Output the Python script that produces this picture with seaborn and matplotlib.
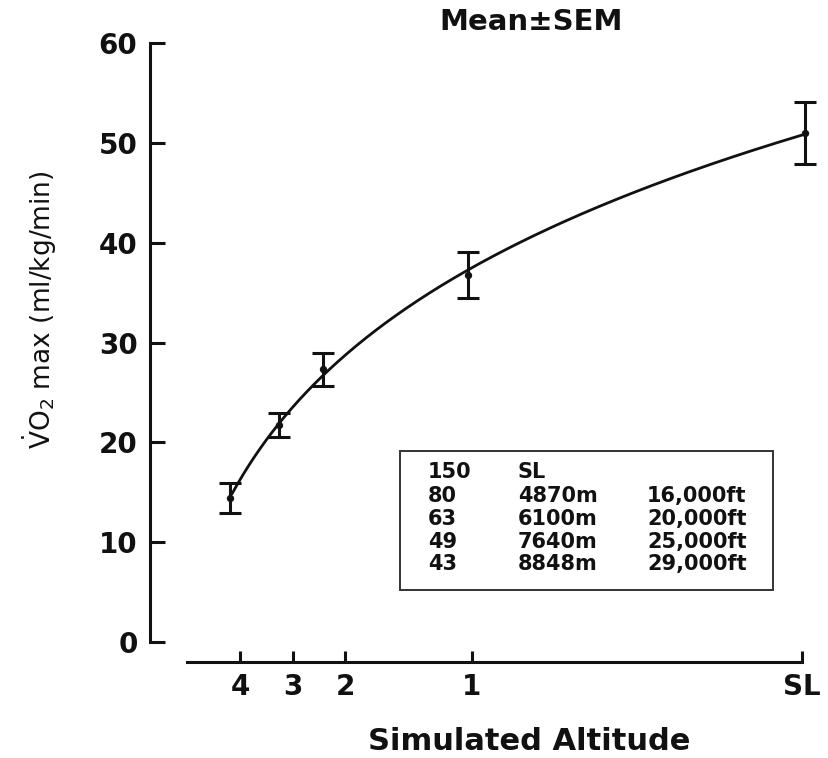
import numpy as np
import pandas as pd
import matplotlib
matplotlib.use("Agg")
import matplotlib.pyplot as plt
from matplotlib.patches import Rectangle
import seaborn as sns

# Simulated altitude stages (4 = highest, SL = sea level)
stage_labels = ["4", "3", "2", "1", "SL"]
stage_tick_pos = [9.0, 14.3, 19.5, 32.2, 65.2]
point_x = [8.0, 12.9, 17.3, 31.8, 65.5]
vo2_mean = [14.4, 21.7, 27.3, 36.8, 51.0]
vo2_sem = [1.5, 1.2, 1.65, 2.3, 3.1]

# Inset table: inspired PO2 (mmHg), altitude (m), altitude (ft)
po2_col = ["150", "80", "63", "49", "43"]
alt_m_col = ["SL", "4870m", "6100m", "7640m", "8848m"]
alt_ft_col = ["", "16,000ft", "20,000ft", "25,000ft", "29,000ft"]

sns.set_theme(style="white")
plt.rcParams["font.family"] = ["DejaVu Sans"]
plt.rcParams["mathtext.fontset"] = "dejavusans"
plt.rcParams["mathtext.default"] = "regular"

ink = "#111111"

fig = plt.figure(figsize=(8.29, 7.58), dpi=100)
ax = fig.add_axes([150 / 829, (758 - 662) / 758, 680 / 829, 619 / 758])
ax.set_facecolor("white")
ax.set_xlim(0, 68)
ax.set_ylim(-2.0, 60)

# Smooth trend through the stage means (quadratic in log position)
coef = np.polyfit(np.log(point_x), vo2_mean, 2)
xs = np.linspace(8.2, point_x[-1], 300)
curve = pd.DataFrame({"x": xs, "y": np.polyval(coef, np.log(xs))})
sns.lineplot(data=curve, x="x", y="y", color=ink, lw=2.0, ax=ax)

ax.errorbar(point_x, vo2_mean, yerr=vo2_sem, fmt="none", ecolor=ink,
            elinewidth=2.2, capsize=8, capthick=2.2, zorder=3)
sns.scatterplot(x=point_x, y=vo2_mean, color=ink, s=28, edgecolor=ink,
                linewidth=0, ax=ax, zorder=4)

# Axes styling
for side in ("top", "right"):
    ax.spines[side].set_visible(False)
for side in ("left", "bottom"):
    ax.spines[side].set_color(ink)
    ax.spines[side].set_linewidth(2.2)
ax.spines["left"].set_bounds(0, 60)
ax.spines["bottom"].set_bounds(3.7, stage_tick_pos[-1])

ax.set_yticks(range(0, 61, 10))
ax.set_yticklabels([str(v) for v in range(0, 61, 10)], fontsize=20,
                   fontweight="bold", color=ink)
ax.tick_params(axis="y", direction="in", length=11, width=2.2, pad=9,
               color=ink, left=True)
ax.set_xticks(stage_tick_pos)
ax.set_xticklabels(stage_labels, fontsize=20, fontweight="bold", color=ink)
ax.tick_params(axis="x", direction="in", length=8, width=2.2, pad=8,
               color=ink, bottom=True)
ax.set_xlabel("")
ax.set_ylabel("")
ax.grid(False)

# Inset table of altitude equivalents
ax.add_patch(Rectangle((25.0, 5.2), 37.3, 13.9, fill=False, lw=1.4,
                       edgecolor="#333333", zorder=2))
row_y = [17.0, 14.6, 12.3, 10.0, 7.8]
for yy, a, b, c in zip(row_y, po2_col, alt_m_col, alt_ft_col):
    for xx, txt in zip((27.8, 36.8, 49.7), (a, b, c)):
        ax.text(xx, yy, txt, fontsize=15, fontweight="bold", color=ink,
                ha="left", va="center")

fig.text(531.5 / 829, (758 - 22) / 758, "Mean±SEM", fontsize=21,
         fontweight="bold", color=ink, ha="center", va="center")
fig.text(529 / 829, (758 - 742) / 758, "Simulated Altitude", fontsize=22,
         fontweight="bold", color=ink, ha="center", va="center")
fig.text(40 / 829, (758 - 310) / 758, r"$\dot{V}O_2$ max (ml/kg/min)",
         fontsize=19, color=ink, rotation=90, ha="center", va="center")

fig.savefig("out.png", dpi=100, facecolor="white")
